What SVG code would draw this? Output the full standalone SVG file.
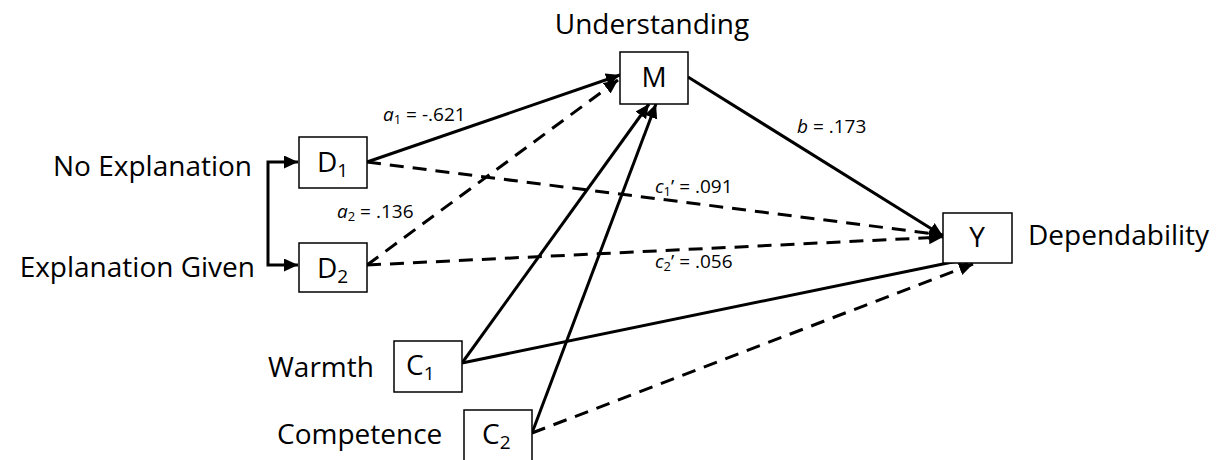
<svg xmlns="http://www.w3.org/2000/svg" width="1225" height="460" viewBox="0 0 1225 460">
<style>
.box{fill:#fff;stroke:#000;stroke-width:1.5}
.t{font-family:"Open Sans","Liberation Sans",sans-serif;font-size:28px;fill:#000}
.s{font-size:19px}
.l{font-family:"Open Sans","Liberation Sans",sans-serif;font-size:19px;fill:#000}
.ls{font-size:13px}
.i{font-style:italic}
.c{fill:none;stroke:#000;stroke-width:3}
.d{stroke-dasharray:14 9}
</style>
<defs>
<marker id="ah" markerUnits="userSpaceOnUse" markerWidth="15" markerHeight="14" refX="14" refY="6.5" orient="auto">
<path d="M0,0 L14,6.5 L0,13 Z" fill="#000"/>
</marker>
</defs>
<rect width="1225" height="460" fill="#fff"/>
<g id="connectors">
<path class="c" d="M268,213 V162 H298" marker-end="url(#ah)"/>
<path class="c" d="M268,213 V265 H298" marker-end="url(#ah)"/>
<path class="c" d="M367,162 L620,75" marker-end="url(#ah)"/>
<path class="c d" d="M367,265 L618,80" marker-end="url(#ah)"/>
<path class="c" d="M462,363 L649,104" marker-end="url(#ah)"/>
<path class="c" d="M532,433 L656,104" marker-end="url(#ah)"/>
<path class="c" d="M688,77 L943,236" marker-end="url(#ah)"/>
<path class="c d" d="M367,162 L943,235" marker-end="url(#ah)"/>
<path class="c d" d="M367,265 L943,237" marker-end="url(#ah)"/>
<path class="c" d="M462,363 L977,257" marker-end="url(#ah)"/>
<path class="c d" d="M532,433 L973,264" marker-end="url(#ah)"/>
</g>
<g id="M">
<rect class="box" x="620" y="52" width="68" height="52"/>
<text class="t" x="654" y="87" text-anchor="middle">M</text>
<text class="t" x="652" y="34" text-anchor="middle">Understanding</text>
</g>
<g id="D1">
<rect class="box" x="299" y="137" width="68" height="51"/>
<text class="t" x="317" y="172">D<tspan class="s" dy="5">1</tspan></text>
<text class="t" x="252" y="176" text-anchor="end">No Explanation</text>
</g>
<g id="D2">
<rect class="box" x="299" y="243" width="68" height="49"/>
<text class="t" x="317" y="278">D<tspan class="s" dy="5">2</tspan></text>
<text class="t" x="255" y="277" text-anchor="end">Explanation Given</text>
</g>
<g id="Y">
<rect class="box" x="943" y="213" width="69" height="50"/>
<text class="t" x="977" y="247" text-anchor="middle">Y</text>
<text class="t" x="1028" y="245">Dependability</text>
</g>
<g id="C1">
<rect class="box" x="394" y="341" width="68" height="51"/>
<text class="t" x="406" y="375">C<tspan class="s" dy="5">1</tspan></text>
<text class="t" x="268" y="377">Warmth</text>
</g>
<g id="C2">
<rect class="box" x="464" y="410" width="68" height="52"/>
<text class="t" x="482" y="444">C<tspan class="s" dy="5">2</tspan></text>
<text class="t" x="277" y="444">Competence</text>
</g>
<g id="labels">
<text class="l" x="383" y="121"><tspan class="i">a</tspan><tspan class="ls" dy="3">1</tspan><tspan dy="-3"> = -.621</tspan></text>
<text class="l" x="337" y="218"><tspan class="i">a</tspan><tspan class="ls" dy="3">2</tspan><tspan dy="-3"> = .136</tspan></text>
<text class="l" x="797" y="133"><tspan class="i">b</tspan> = .173</text>
<text class="l" x="655" y="193"><tspan class="i">c</tspan><tspan class="ls" dy="3">1</tspan><tspan dy="-3">’ = .091</tspan></text>
<text class="l" x="655" y="268"><tspan class="i">c</tspan><tspan class="ls" dy="3">2</tspan><tspan dy="-3">’ = .056</tspan></text>
</g>
</svg>
